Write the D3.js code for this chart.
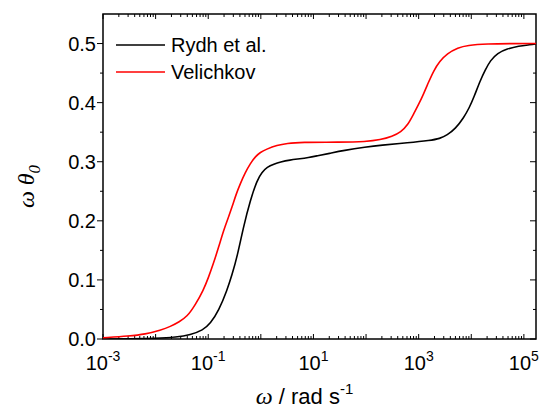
<!DOCTYPE html>
<html>
<head>
<meta charset="utf-8">
<script src="https://cdn.jsdelivr.net/npm/d3@7"></script>
<style>
	body { margin: 0; background: #fff; }
	text { font-family: "Liberation Sans", Arial, sans-serif; fill: #000; }
	.greek { font-family: "Liberation Serif", "Times New Roman", serif; font-style: italic; }
</style>
</head>
<body>
<div id="chart"></div>
<script>
var logW_rydh = [-3, -2.5, -2, -1.6, -1.34, -1.1, -0.96, -0.8, -0.64, -0.55, -0.45, -0.33, -0.2, -0.07, 0.02, 0.12, 0.25, 0.37, 0.55, 0.75, 0.9, 1.07, 1.3, 1.57, 2.0, 2.27, 2.8, 3.22, 3.4, 3.54, 3.7, 3.86, 3.96, 4.05, 4.17, 4.27, 4.36, 4.5, 4.68, 4.9, 5.12, 5.24];
var rydh = [0.000, 0.0005, 0.001, 0.003, 0.007, 0.015, 0.026, 0.048, 0.083, 0.108, 0.139, 0.19, 0.235, 0.269, 0.282, 0.291, 0.296, 0.2995, 0.303, 0.305, 0.307, 0.310, 0.314, 0.319, 0.325, 0.328, 0.332, 0.336, 0.339, 0.345, 0.356, 0.375, 0.391, 0.409, 0.4375, 0.456, 0.471, 0.484, 0.491, 0.496, 0.498, 0.4995];

var logW_vel = [-3, -2.5, -2.2, -1.9, -1.72, -1.55, -1.4, -1.25, -1.09, -1.0, -0.9, -0.8, -0.707, -0.62, -0.548, -0.47, -0.39, -0.3, -0.2, -0.1, -0.01, 0.1, 0.31, 0.5, 0.75, 1.5, 2.0, 2.27, 2.5, 2.66, 2.8, 2.905, 3.0, 3.095, 3.19, 3.285, 3.4, 3.54, 3.75, 3.92, 4.3, 4.8, 5.24];
var vel = [0.002, 0.005, 0.008, 0.015, 0.021, 0.029, 0.038, 0.057, 0.083, 0.103, 0.128, 0.156, 0.184, 0.205, 0.223, 0.245, 0.263, 0.281, 0.297, 0.309, 0.316, 0.321, 0.328, 0.331, 0.333, 0.333, 0.334, 0.337, 0.343, 0.35, 0.363, 0.381, 0.397, 0.415, 0.435, 0.454, 0.470, 0.483, 0.493, 0.497, 0.4995, 0.5, 0.5];

var seriesNames = ["Rydh et al.", "Velichkov"];
var seriesColors = ["#000000", "#ff0000"];

var xDecades = [-3, -2, -1, 0, 1, 2, 3, 4, 5];
var xLabelDecades = [-3, -1, 1, 3, 5];
var yTicks = [0, 0.1, 0.2, 0.3, 0.4, 0.5];
var yMinor = [0.05, 0.15, 0.25, 0.35, 0.45];

var W = 541, H = 410;
var m = { left: 103, right: 5, top: 14, bottom: 71 };
var pw = W - m.left - m.right, ph = H - m.top - m.bottom;

var svg = d3.select("#chart").append("svg")
	.attr("width", W)
	.attr("height", H);

var x = d3.scaleLog().domain([1e-3, 1.7e5]).range([0, pw]);
var y = d3.scaleLinear().domain([0, 0.55]).range([ph, 0]);

var g = svg.append("g").attr("transform", "translate(" + m.left + "," + m.top + ")");

g.append("clipPath").attr("id", "clip")
	.append("rect").attr("width", pw).attr("height", ph);

// minor x ticks 2..9 per decade
var xMinor = [];
xDecades.forEach(function (d) {
	for (var k = 2; k <= 9; k++) {
		var v = k * Math.pow(10, d);
		if (v < x.domain()[1]) xMinor.push(v);
	}
});
var xMajor = xDecades.map(function (d) { return Math.pow(10, d); });

function tickLines(vals, len, side) {
	vals.forEach(function (v) {
		if (side == "bottom" || side == "top") {
			var px = x(v);
			var y0 = side == "bottom" ? ph : 0;
			var y1 = side == "bottom" ? ph - len : len;
			g.append("line").attr("x1", px).attr("x2", px).attr("y1", y0).attr("y2", y1)
				.attr("stroke", "#000").attr("stroke-width", 1);
		} else {
			var py = y(v);
			var x0 = side == "left" ? 0 : pw;
			var x1 = side == "left" ? -len : pw - len;
			g.append("line").attr("x1", x0).attr("x2", x1).attr("y1", py).attr("y2", py)
				.attr("stroke", "#000").attr("stroke-width", 1);
		}
	});
}

tickLines(xMajor, 5, "bottom");
tickLines(xMinor, 3, "bottom");
tickLines(xMajor, 5, "top");
tickLines(xMinor, 3, "top");
tickLines(yTicks, 6, "left");
tickLines(yMinor, 3, "left");
tickLines(yTicks, 6, "right");
tickLines(yMinor, 3, "right");

// frame
g.append("rect").attr("width", pw).attr("height", ph)
	.attr("fill", "none").attr("stroke", "#000").attr("stroke-width", 1.5);

// y tick labels
g.selectAll(".ylab").data(yTicks).enter().append("text")
	.attr("class", "ylab")
	.attr("x", -7)
	.attr("y", function (d) { return y(d); })
	.attr("dy", "0.36em")
	.attr("text-anchor", "end")
	.style("font-size", "20px")
	.text(function (d) { return d3.format(".1f")(d); });

// x tick labels with superscripts
xLabelDecades.forEach(function (d) {
	var t = g.append("text")
		.attr("x", x(Math.pow(10, d)))
		.attr("y", ph + 31)
		.attr("text-anchor", "middle")
		.style("font-size", "20px");
	t.append("tspan").text("10");
	t.append("tspan").attr("dy", -9).style("font-size", "14px").text(String(d));
});

// curves
var line = d3.line()
	.x(function (d) { return x(Math.pow(10, d[0])); })
	.y(function (d) { return y(d[1]); })
	.curve(d3.curveBasis);

var series = [
	d3.zip(logW_rydh, rydh),
	d3.zip(logW_vel, vel)
];

series.forEach(function (s, i) {
	g.append("path")
		.attr("clip-path", "url(#clip)")
		.attr("d", line(s))
		.attr("fill", "none")
		.attr("stroke", seriesColors[i])
		.attr("stroke-width", 1.6);
});

// legend
seriesNames.forEach(function (n, i) {
	var ly = 31 + i * 27;
	g.append("line").attr("x1", 13).attr("x2", 62).attr("y1", ly).attr("y2", ly)
		.attr("stroke", seriesColors[i]).attr("stroke-width", 1.6);
	g.append("text").attr("x", 68).attr("y", ly).attr("dy", "0.36em")
		.style("font-size", "20px").text(n);
});

// axis titles
var xt = svg.append("text")
	.attr("x", m.left + pw / 2 - 15)
	.attr("y", 404)
	.attr("text-anchor", "middle")
	.style("font-size", "22px");
xt.append("tspan").attr("class", "greek").style("font-size", "24px").text("ω");
xt.append("tspan").text(" / rad s");
xt.append("tspan").attr("dy", -10).style("font-size", "15px").text("-1");

var yt = svg.append("text")
	.attr("transform", "translate(34," + (m.top + ph / 2 + 10) + ") rotate(-90)")
	.attr("text-anchor", "middle")
	.style("font-size", "24px");
yt.append("tspan").attr("class", "greek").text("ω θ");
yt.append("tspan").attr("class", "greek").attr("dy", 6).style("font-size", "17px").text("0");
</script>
</body>
</html>
